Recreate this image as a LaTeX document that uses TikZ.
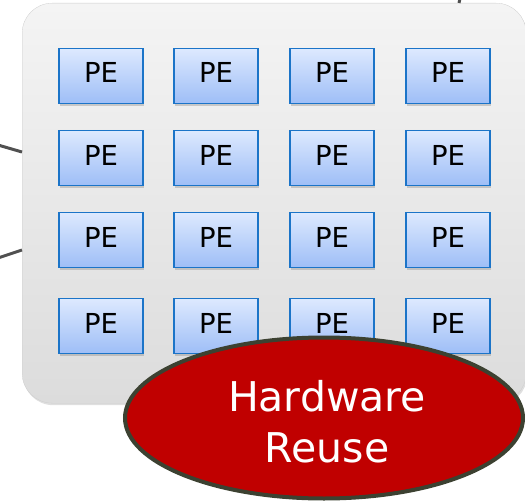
\documentclass[tikz,border=0pt]{standalone}
\usepackage{fontspec}
\setmainfont{DejaVu Sans}
\usetikzlibrary{shapes.geometric,shadows}
\definecolor{panelTop}{HTML}{F4F4F4}
\definecolor{panelBot}{HTML}{DCDCDC}
\definecolor{peTop}{HTML}{DDE9FE}
\definecolor{peBot}{HTML}{9EBEF7}
\definecolor{peEdge}{HTML}{1B74C8}
\definecolor{wire}{HTML}{505050}
\definecolor{reuseFill}{HTML}{C00000}
\definecolor{reuseEdge}{HTML}{3C4131}
\tikzset{
  panel/.style={rounded corners=30pt, top color=panelTop, bottom color=panelBot,
    draw=panelBot!93!black, line width=0.3pt,
    drop shadow={shadow xshift=1pt, shadow yshift=-2pt, opacity=0.25}},
  pebox/.style={rectangle, minimum width=84pt, minimum height=55pt, inner sep=0pt,
    top color=peTop, bottom color=peBot, draw=peEdge, line width=1.8pt,
    drop shadow={shadow xshift=1pt, shadow yshift=-2.5pt, opacity=0.35},
    text height=20pt, text depth=6pt,
    font=\fontsize{27.5}{30}\selectfont, text=black},
  wireline/.style={draw=wire, line width=3pt},
  reuse/.style={ellipse, minimum width=398pt, minimum height=161pt, inner sep=0pt,
    fill=reuseFill, draw=reuseEdge, line width=4pt},
  reusetext/.style={text=white, align=center, inner sep=0pt,
    font=\fontsize{41}{51}\selectfont}
}
\begin{document}
\begin{tikzpicture}[x=1pt,y=-1pt]
\useasboundingbox (0,0) rectangle (525,503);
\clip (0,0) rectangle (525,503);
% processing-element array panel
\node[panel, rectangle, minimum width=504pt, minimum height=400pt, anchor=north west,
  inner sep=0pt] (array) at (22,3) {};
% 4x4 grid of processing elements
\foreach \r/\y in {1/76,2/158,3/240,4/326}{
  \foreach \c/\x in {1/101,2/216,3/332,4/448}{
    \node[pebox] (pe\r\c) at (\x,\y) {PE};
  }
}
% incoming wires
\coordinate (inA) at (-2,145);
\coordinate (inB) at (-2,258);
\coordinate (inC) at (461,-6);
\draw[wireline] (inA) -- (array.west |- 0,152);
\draw[wireline] (inB) -- (array.west |- 0,250);
\draw[wireline] (inC) -- (array.north -| 459,0);
% callout
\node[reuse] (hw) at (324,418) {};
\node[reusetext] (hwtext) at (327,422) {Hardware\\Reuse};
\end{tikzpicture}
\end{document}
